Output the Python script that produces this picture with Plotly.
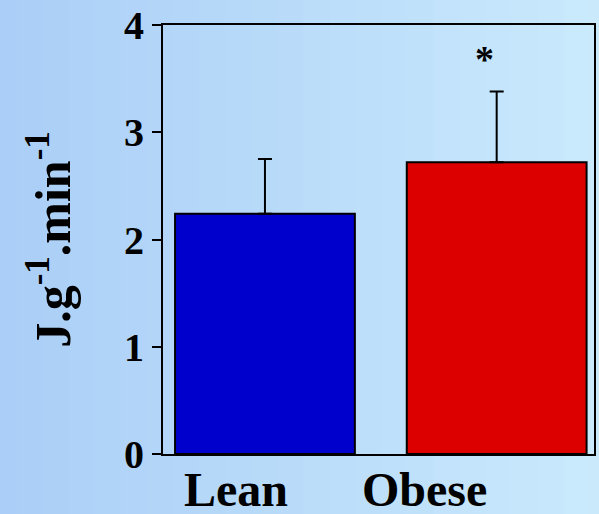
import plotly.graph_objects as go

# data
groups = ["Lean", "Obese"]
means = [2.24, 2.72]
sem_up = [0.51, 0.66]
bar_colors = ["#0000CC", "#DD0000"]
y_ticks = [0, 1, 2, 3, 4]
label_shift = [-29, -72]   # group labels sit left of their bars in the original

FONT = "Liberation Serif"

fig = go.Figure()
fig.add_trace(go.Bar(
    x=groups,
    y=means,
    width=0.776,
    marker=dict(color=bar_colors, line=dict(color="black", width=2)),
    error_y=dict(type="data", array=sem_up, arrayminus=[0, 0], symmetric=False,
                 color="black", thickness=2, width=7),
    showlegend=False,
))

# group labels
for g, dx in zip(groups, label_shift):
    fig.add_annotation(x=g, xref="x", y=0, yref="paper", yanchor="top",
                       xshift=dx, yshift=-7, text=g, showarrow=False,
                       font=dict(family=FONT, size=48, color="black", weight="bold"))

# significance marker above the obese bar
fig.add_annotation(x="Obese", y=3.68, xshift=-12, text="*", showarrow=False,
                   font=dict(family=FONT, size=38, color="black", weight="bold"))

# light blue gradient backdrop (left darker -> right lighter)
n_strips = 24
c0 = (170, 206, 247)
c1 = (202, 234, 252)
for i in range(n_strips):
    t = i / (n_strips - 1)
    col = "rgb({},{},{})".format(*[round(a + (b - a) * t) for a, b in zip(c0, c1)])
    fig.add_shape(type="rect", xref="paper", yref="paper", layer="below",
                  x0=-0.4 + i * 1.45 / n_strips, x1=-0.4 + (i + 1) * 1.45 / n_strips + 0.002,
                  y0=-0.2, y1=1.1, line=dict(width=0), fillcolor=col)

fig.update_layout(
    width=599, height=514,
    margin=dict(l=163, r=3, t=22, b=60),
    paper_bgcolor="#C0DEFA",
    plot_bgcolor="white",
    font=dict(family=FONT, color="black"),
)
fig.update_xaxes(
    range=[-0.44, 1.42],
    showline=True, linecolor="black", linewidth=2, mirror=True,
    ticks="", showticklabels=False,
    showgrid=False,
)
fig.update_yaxes(
    range=[0, 4], tickvals=y_ticks,
    showline=True, linecolor="black", linewidth=2, mirror=True,
    ticks="outside", ticklen=9, tickwidth=2, tickcolor="black",
    tickfont=dict(family=FONT, size=40, color="black", weight="bold"),
    showgrid=False, zeroline=False,
    title=dict(text="J.g<sup>-1</sup>.min<sup>-1</sup>",
               font=dict(family=FONT, size=50, color="black", weight="bold"), standoff=38),
)

fig.write_html("out.html", config={"displayModeBar": False},
               post_script="document.body.style.margin='0';document.body.style.overflow='hidden';")
